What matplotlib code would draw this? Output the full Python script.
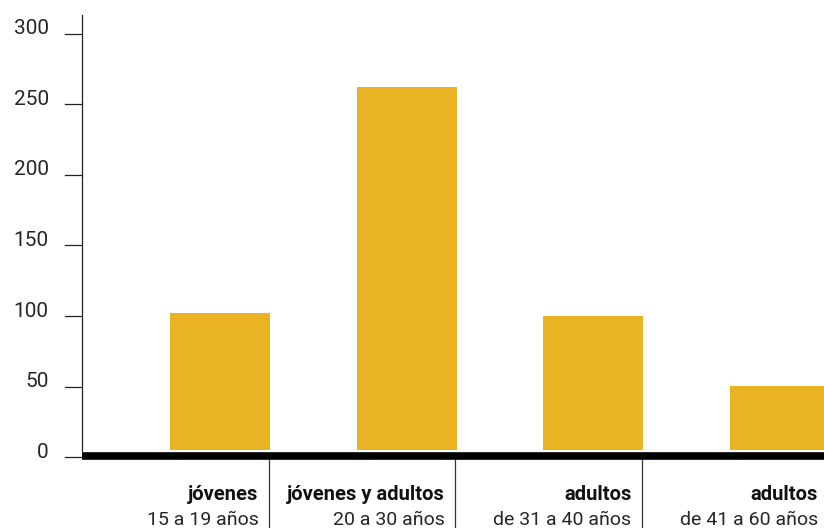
import matplotlib.pyplot as plt
import matplotlib.transforms as mtransforms

# datos del gráfico
groups = ['jóvenes', 'jóvenes y adultos', 'adultos', 'adultos']
ages = ['15 a 19 años', '20 a 30 años', 'de 31 a 40 años', 'de 41 a 60 años']
values = [97, 257.5, 95, 45.5]
yticks = [0, 50, 100, 150, 200, 250, 300]

bar_color = '#E9B324'
dpi = 100

fig = plt.figure(figsize=(8.24, 5.28), dpi=dpi)
ax = fig.add_axes([82 / 824, 77 / 528, 746 / 824, 436 / 528])

# barras alineadas al borde derecho de cada grupo
bar_w = 100 / 186.5
for i, v in enumerate(values):
    ax.bar(i + 1 - bar_w + 1.5 / 186.5, v, width=bar_w, align='edge', color=bar_color, zorder=2)

ax.set_xlim(0, len(values))
ax.set_ylim(-0.7, 308.5)

for s in ['top', 'right']:
    ax.spines[s].set_visible(False)
ax.spines['left'].set_color('#222222')
ax.spines['left'].set_linewidth(0.9)
ax.spines['bottom'].set_color('black')
ax.spines['bottom'].set_linewidth(5.5)
ax.spines['bottom'].set_position(('outward', 3.8))
ax.spines['bottom'].set_capstyle('butt')

ax.set_xticks([])
ax.set_yticks(yticks)
ax.tick_params(axis='y', length=0, pad=24)
for lab in ax.get_yticklabels():
    lab.set_fontfamily('Roboto')
    lab.set_fontweight('normal')
    lab.set_fontsize(15)
    lab.set_color('#262626')

# marcas cortas desplazadas bajo cada etiqueta
tick_tr = ax.get_yaxis_transform() + mtransforms.ScaledTranslation(0, -7 / dpi, fig.dpi_scale_trans)
for t in yticks:
    ax.plot([-17 / 746, 0], [t, t], color='#222222', lw=0.9,
            transform=tick_tr, clip_on=False)

# separadores y etiquetas de categorías
sep_tr = ax.get_xaxis_transform()
for i in range(1, len(values)):
    ax.plot([i, i], [-7.5 / 436, -80 / 436], color='#333333', lw=0.9,
            transform=sep_tr, clip_on=False)

for i, (g, a) in enumerate(zip(groups, ages)):
    tr = sep_tr + mtransforms.ScaledTranslation(-10 / dpi, 0, fig.dpi_scale_trans)
    ax.text(i + 1, -43 / 436, g, transform=tr, ha='right', va='center',
            fontfamily='Roboto', fontweight='bold', fontsize=14.5, color='#111111')
    ax.text(i + 1, -69 / 436, a, transform=tr, ha='right', va='center',
            fontfamily='Roboto', fontweight='normal', fontsize=14, color='#262626')

fig.savefig('out.png', dpi=dpi)
